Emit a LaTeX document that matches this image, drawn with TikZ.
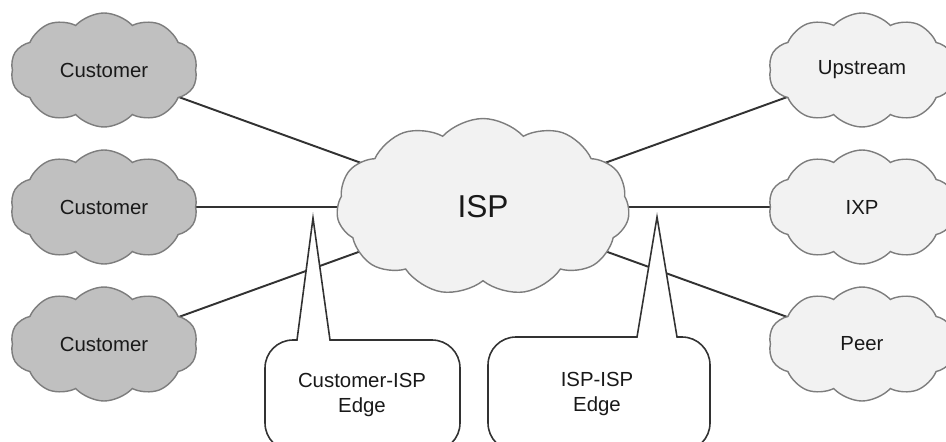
\documentclass[tikz,border=0pt]{standalone}
\usepackage{fontspec}
\setmainfont{Liberation Sans}
\usetikzlibrary{shapes.symbols,backgrounds}
\definecolor{custfill}{RGB}{192,192,192}
\definecolor{ispfill}{RGB}{242,242,242}
\definecolor{cloudline}{RGB}{125,125,125}
\definecolor{linkcol}{RGB}{50,50,50}
\definecolor{textcol}{RGB}{25,25,25}
\begin{document}
\begin{tikzpicture}[x=0.02cm,y=-0.02cm,
  cloudnode/.style={cloud, cloud puffs=10, cloud puff arc=95, cloud ignores aspect,
    draw=cloudline, line width=0.8pt, inner sep=0pt, text=textcol,
    font=\fontsize{11.6}{14}\selectfont},
  custcloud/.style={cloudnode, fill=custfill, minimum width=3.74cm, minimum height=2.28cm},
  extcloud/.style={cloudnode, fill=ispfill, minimum width=3.74cm, minimum height=2.28cm},
  ispcloud/.style={cloudnode, fill=ispfill, minimum width=5.86cm, minimum height=3.54cm,
    cloud puffs=11, font=\fontsize{18}{20}\selectfont},
  link/.style={draw=linkcol, line width=1.1pt},
  callout/.style={draw=linkcol, fill=white, line width=0.9pt, line join=miter},
  calltext/.style={align=center, text=textcol, font=\fontsize{11.6}{13.8}\selectfont}
]
\path[use as bounding box] (0,0) rectangle (946,442);
\clip (0,0) rectangle (946,442);

\node[custcloud] (c1) at (104,70) {Customer};
\node[custcloud] (c2) at (104,207) {Customer};
\node[custcloud] (c3) at (104,344) {Customer};
\node[extcloud] (up) at (862,70) {Upstream};
\node[extcloud] (ixp) at (862,207) {IXP};
\node[extcloud] (peer) at (862,344) {Peer};
\node[ispcloud] (isp) at (483,207) {ISP};

\begin{pgfonlayer}{background}
\draw[link] (c1.center) -- (isp.center);
\draw[link] (c2.center) -- (isp.center);
\draw[link] (c3.center) -- (isp.center);
\draw[link] (up.center) -- (isp.center);
\draw[link] (ixp.center) -- (isp.center);
\draw[link] (peer.center) -- (isp.center);
\end{pgfonlayer}

\coordinate (tipL) at (313,218);
\coordinate (tipR) at (657,217);
\draw[callout] (tipL) -- (330,340) -- (432,340) .. controls (447.5,340) and (460,352.5) .. (460,368)
  -- (460,423) .. controls (460,438.5) and (447.5,451) .. (432,451)
  -- (293,451) .. controls (277.5,451) and (265,438.5) .. (265,423)
  -- (265,368) .. controls (265,352.5) and (277.5,340) .. (293,340) -- (297,340) -- cycle;
\draw[callout] (tipR) -- (677,337) -- (682,337) .. controls (697.5,337) and (710,349.5) .. (710,365)
  -- (710,423) .. controls (710,438.5) and (697.5,451) .. (682,451)
  -- (516,451) .. controls (500.5,451) and (488,438.5) .. (488,423)
  -- (488,365) .. controls (488,349.5) and (500.5,337) .. (516,337) -- (637,337) -- cycle;
\node[calltext] (lt) at (362,395) {Customer-ISP\\Edge};
\node[calltext] (rt) at (597,394) {ISP-ISP\\Edge};
\end{tikzpicture}
\end{document}
